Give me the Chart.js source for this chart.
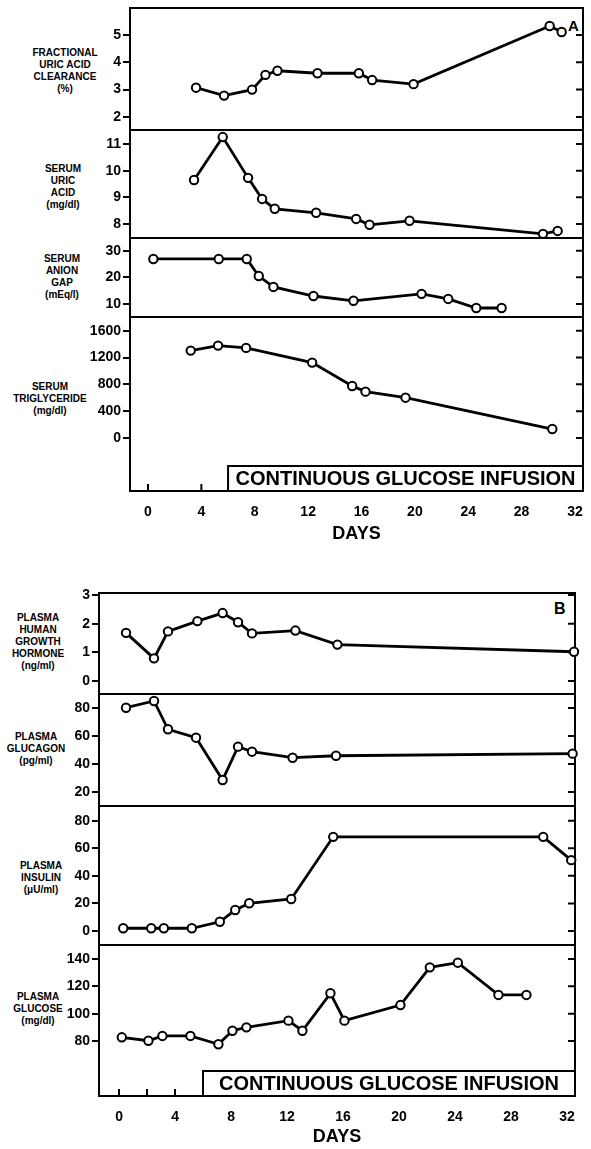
<!DOCTYPE html>
<html>
<head>
<meta charset="utf-8">
<script src="https://cdn.jsdelivr.net/npm/chart.js@4.4.1/dist/chart.umd.min.js"></script>
<style>
  body { margin: 0; background: #fff; width: 591px; height: 1149px; position: relative; overflow: hidden;
         font-family: "Liberation Sans", Arial, sans-serif; }
  canvas { position: absolute; left: 0; }
  .lbl { position: absolute; font-weight: bold; font-size: 10px; line-height: 12px; text-align: center;
         transform: translateX(-50%); white-space: nowrap; color: #000; }
  .panel { position: absolute; font-weight: bold; color: #000; }
</style>
</head>
<body>
<div class="panel" style="left:568px;top:17px;font-size:15px;">A</div>
<div class="panel" style="left:554px;top:600px;font-size:16px;">B</div>
<script>
const FONT = '"Liberation Sans", Arial, sans-serif';

// ---- panel A ----
const fracDays  = [3.6, 5.7, 7.8, 8.8, 9.7, 12.7, 15.8, 16.8, 19.9, 30.1, 31.0];
const fracClear = [3.07, 2.78, 3.0, 3.54, 3.69, 3.6, 3.6, 3.35, 3.2, 5.33, 5.11];

const uricDays = [3.45, 5.6, 7.5, 8.55, 9.5, 12.6, 15.6, 16.6, 19.6, 29.6, 30.7];
const uricAcid = [9.65, 11.26, 9.73, 8.94, 8.57, 8.42, 8.19, 7.97, 8.12, 7.63, 7.74];

const gapDays  = [0.4, 5.3, 7.4, 8.3, 9.4, 12.4, 15.4, 20.5, 22.5, 24.6, 26.5];
const anionGap = [26.9, 26.9, 26.9, 20.5, 16.4, 13.0, 11.2, 13.8, 11.9, 8.5, 8.5];

const trigDays     = [3.2, 5.25, 7.35, 12.3, 15.3, 16.3, 19.3, 30.3];
const triglyceride = [1303, 1378, 1343, 1124, 776, 691, 601, 134];

// ---- panel B ----
const ghDays       = [0.5, 2.5, 3.5, 5.6, 7.4, 8.5, 9.5, 12.6, 15.6, 32.5];
const growthHormone = [1.68, 0.79, 1.73, 2.09, 2.37, 2.05, 1.66, 1.76, 1.27, 1.02];

const glucagonDays = [0.5, 2.5, 3.5, 5.5, 7.4, 8.5, 9.5, 12.4, 15.5, 32.4];
const glucagon     = [80.2, 85, 64.8, 58.8, 28.6, 52.4, 48.8, 44.5, 45.9, 47.4];

const insulinDays = [0.3, 2.3, 3.2, 5.2, 7.2, 8.3, 9.3, 12.3, 15.3, 30.3, 32.3];
const insulin     = [2, 2, 2, 2, 6.7, 15.2, 20.1, 23.2, 68.3, 68.3, 51.4];

const glucoseDays = [0.2, 2.1, 3.1, 5.1, 7.1, 8.1, 9.1, 12.1, 13.1, 15.1, 16.1, 20.1, 22.2, 24.2, 27.1, 29.1];
const glucose     = [82.7, 80.2, 83.7, 83.7, 77.6, 87.5, 90.0, 94.9, 87.5, 114.9, 94.9, 106.3, 133.9, 137.3, 113.7, 113.7];

// tick labels
const fracTicks = [2, 3, 4, 5];
const uricTicks = [8, 9, 10, 11];
const gapTicks  = [10, 20, 30];
const trigTicks = [0, 400, 800, 1200, 1600];
const ghTicks   = [0, 1, 2, 3];
const glucagonTicks = [20, 40, 60, 80];
const insulinTicks  = [0, 20, 40, 60, 80];
const glucoseTicks  = [80, 100, 120, 140];
const dayLabels = [0, 4, 8, 12, 16, 20, 24, 28, 32];
const dayMarksA = [0, 4];
const dayMarksB = [0, 2, 4];

const infusionStart = 6;
const infusionText = 'CONTINUOUS GLUCOSE INFUSION';

const sideLabels = [
  { lines: ['FRACTIONAL', 'URIC ACID', 'CLEARANCE', '(%)'], cx: 65, y: 53 },
  { lines: ['SERUM', 'URIC', 'ACID', '(mg/dl)'], cx: 63, y: 169 },
  { lines: ['SERUM', 'ANION', 'GAP', '(mEq/l)'], cx: 62, y: 259 },
  { lines: ['SERUM', 'TRIGLYCERIDE', '(mg/dl)'], cx: 50, y: 387 },
  { lines: ['PLASMA', 'HUMAN', 'GROWTH', 'HORMONE', '(ng/ml)'], cx: 38, y: 618 },
  { lines: ['PLASMA', 'GLUCAGON', '(pg/ml)'], cx: 36, y: 737 },
  { lines: ['PLASMA', 'INSULIN', '(\u03bcU/ml)'], cx: 41, y: 866 },
  { lines: ['PLASMA', 'GLUCOSE', '(mg/dl)'], cx: 38, y: 997 }
];

sideLabels.forEach(l => {
  const d = document.createElement('div');
  d.className = 'lbl';
  d.style.left = l.cx + 'px';
  d.style.top = (l.y - 6) + 'px';
  d.innerHTML = l.lines.join('<br>');
  document.body.appendChild(d);
});

function framePlugin(o) {
  return {
    id: 'frame',
    beforeDatasetsDraw(chart) {
      const { ctx, chartArea: a, scales: { x, y } } = chart;
      ctx.save();
      ctx.strokeStyle = '#000';
      ctx.lineWidth = 2;
      ctx.strokeRect(a.left, a.top, a.right - a.left, a.bottom - a.top);
      ctx.beginPath();
      o.yTicks.forEach(v => {
        const py = y.getPixelForValue(v);
        ctx.moveTo(a.right - 7, py);
        ctx.lineTo(a.right, py);
      });
      if (o.bottomAxis) {
        o.xMarks.forEach(v => {
          const px = x.getPixelForValue(v);
          ctx.moveTo(px, a.bottom);
          ctx.lineTo(px, a.bottom - 7);
        });
      }
      ctx.stroke();
      if (o.bottomAxis) {
        const bx = x.getPixelForValue(infusionStart), bh = 25;
        ctx.fillStyle = '#fff';
        ctx.fillRect(bx, a.bottom - bh, a.right - bx, bh);
        ctx.strokeRect(bx, a.bottom - bh, a.right - bx, bh);
        ctx.fillStyle = '#000';
        ctx.font = 'bold 20px ' + FONT;
        ctx.textAlign = 'center';
        ctx.textBaseline = 'middle';
        ctx.fillText(infusionText, (bx + a.right) / 2, a.bottom - bh / 2 + 1, a.right - bx - 6);
      }
      ctx.restore();
    }
  };
}

function makePlot(o) {
  const padT = 12, padB = o.bottomAxis ? 0 : 12;
  const axisH = o.bottomAxis ? o.axisH : 0;
  const c = document.createElement('canvas');
  c.width = 591;
  c.height = (o.bottom - o.top) + padT + padB + axisH;
  c.style.top = (o.top - padT) + 'px';
  document.body.appendChild(c);

  new Chart(c, {
    type: 'line',
    data: {
      datasets: [{
        data: o.xs.map((x, i) => ({ x: x, y: o.ys[i] })),
        borderColor: '#000',
        borderWidth: 2.8,
        pointRadius: 4.2,
        pointBorderWidth: 2,
        pointBackgroundColor: '#fff',
        pointBorderColor: '#000',
        tension: 0,
        clip: false
      }]
    },
    options: {
      responsive: false,
      animation: false,
      events: [],
      layout: { padding: { left: 0, right: 591 - o.right, top: padT, bottom: padB } },
      plugins: { legend: { display: false }, tooltip: { enabled: false } },
      scales: {
        x: {
          type: 'linear', min: o.xMin, max: o.xMax,
          display: !!o.bottomAxis,
          grid: { display: false }, border: { display: false },
          afterBuildTicks: s => { s.ticks = dayLabels.map(v => ({ value: v })); },
          afterFit: s => { s.height = axisH; },
          ticks: { autoSkip: false, maxRotation: 0, padding: 5, color: '#000',
                   font: { family: FONT, weight: 'bold', size: 14 }, callback: v => String(v) },
          title: { display: true, text: 'DAYS', color: '#000', padding: 0,
                   font: { family: FONT, weight: 'bold', size: 18 } }
        },
        y: {
          min: o.yMin, max: o.yMax,
          afterFit: s => { s.width = o.left; },
          afterBuildTicks: s => { s.ticks = o.yTicks.map(v => ({ value: v })); },
          grid: { drawOnChartArea: false, drawTicks: true, tickLength: 7, color: '#000', lineWidth: 2 },
          border: { display: false },
          ticks: { padding: 2, color: '#000', font: { family: FONT, weight: 'bold', size: 14 },
                   callback: v => String(v) }
        }
      }
    },
    plugins: [framePlugin(o)]
  });
}

const A = { left: 130, right: 583, xMin: -1.35, xMax: 32.6 };
const B = { left: 99, right: 575, xMin: -1.43, xMax: 32.57 };

makePlot({ ...A, top: 8,   bottom: 130, yMin: 1.52,  yMax: 5.99,  yTicks: fracTicks, xs: fracDays, ys: fracClear });
makePlot({ ...A, top: 130, bottom: 238, yMin: 7.475, yMax: 11.525, yTicks: uricTicks, xs: uricDays, ys: uricAcid });
makePlot({ ...A, top: 238, bottom: 317, yMin: 5.12,  yMax: 34.77, yTicks: gapTicks,  xs: gapDays,  ys: anionGap });
makePlot({ ...A, top: 317, bottom: 491, yMin: -790,  yMax: 1804,  yTicks: trigTicks, xs: trigDays, ys: triglyceride,
           bottomAxis: true, axisH: 54, xMarks: dayMarksA });

makePlot({ ...B, top: 593, bottom: 694, yMin: -0.453, yMax: 3.07,  yTicks: ghTicks, xs: ghDays, ys: growthHormone });
makePlot({ ...B, top: 694, bottom: 806, yMin: 10,     yMax: 90,    yTicks: glucagonTicks, xs: glucagonDays, ys: glucagon });
makePlot({ ...B, top: 806, bottom: 945, yMin: -10.15, yMax: 90.66, yTicks: insulinTicks, xs: insulinDays, ys: insulin });
makePlot({ ...B, top: 945, bottom: 1096, yMin: 39.76, yMax: 150.24, yTicks: glucoseTicks, xs: glucoseDays, ys: glucose,
           bottomAxis: true, axisH: 52, xMarks: dayMarksB });
</script>
</body>
</html>
